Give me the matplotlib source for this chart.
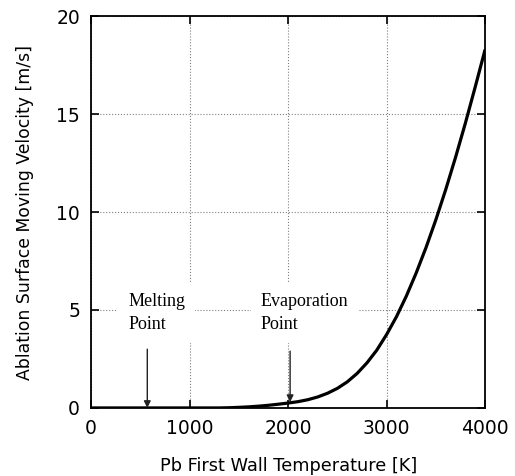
import numpy as np
import matplotlib.pyplot as plt

# ablation surface velocity vs. first wall temperature (Pb)
temp = [0, 200, 400, 600, 800, 1000, 1200, 1300, 1400, 1500, 1600, 1700, 1800,
        1900, 2000, 2100, 2200, 2300, 2400, 2500, 2600, 2700, 2800, 2900, 3000,
        3100, 3200, 3300, 3400, 3500, 3600, 3700, 3800, 3900, 4000]
velocity = [0, 0, 0, 0, 0, 0, 0, 0, 0.01, 0.03, 0.055, 0.09, 0.135,
            0.19, 0.25, 0.32, 0.42, 0.56, 0.75, 1.00, 1.33, 1.76, 2.30, 2.95, 3.75,
            4.66, 5.71, 6.89, 8.19, 9.61, 11.15, 12.80, 14.55, 16.40, 18.30]

melt_T, evap_T = 570, 2020
arrow_top = 3.0

plt.rcParams['font.family'] = ['DejaVu Sans']
fig = plt.figure(figsize=(5.15, 4.76), dpi=100)
ax = fig.add_axes([0.177, 0.143, 0.765, 0.823])

ax.plot(temp, velocity, color='black', lw=2.3, zorder=3,
        solid_joinstyle='round', solid_capstyle='butt')

ax.set_xlim(0, 4000)
ax.set_ylim(0, 20)
ax.set_xticks([0, 1000, 2000, 3000, 4000])
ax.set_yticks([0, 5, 10, 15, 20])
ax.tick_params(direction='in', top=True, right=True, length=6, width=1.2,
               labelsize=13.5, pad=8)
ax.grid(True, color='gray', linestyle=':', linewidth=0.8)
for s in ax.spines.values():
    s.set_linewidth(1.3)

ax.set_xlabel('Pb First Wall Temperature [K]', fontsize=12.8, labelpad=14)
ax.set_ylabel('Ablation Surface Moving Velocity [m/s]', fontsize=12.4, labelpad=16)

box = dict(facecolor='white', edgecolor='none', pad=7)
ax.text(375, 4.85, 'Melting\nPoint', family='Liberation Serif', fontsize=13,
        ha='left', va='center', linespacing=1.5, bbox=box, zorder=2)
ax.text(1720, 4.85, 'Evaporation\nPoint', family='Liberation Serif', fontsize=13,
        ha='left', va='center', linespacing=1.5, bbox=box, zorder=2)

arrow = dict(arrowstyle='-|>', color='#222222', lw=1.0, mutation_scale=10,
             shrinkA=0, shrinkB=0)
ax.annotate('', xy=(melt_T, 0.0), xytext=(melt_T, arrow_top), arrowprops=arrow, zorder=4)
ax.annotate('', xy=(evap_T, 0.3), xytext=(evap_T, arrow_top - 0.1), arrowprops=arrow, zorder=4)

fig.savefig('out.png', dpi=100)
